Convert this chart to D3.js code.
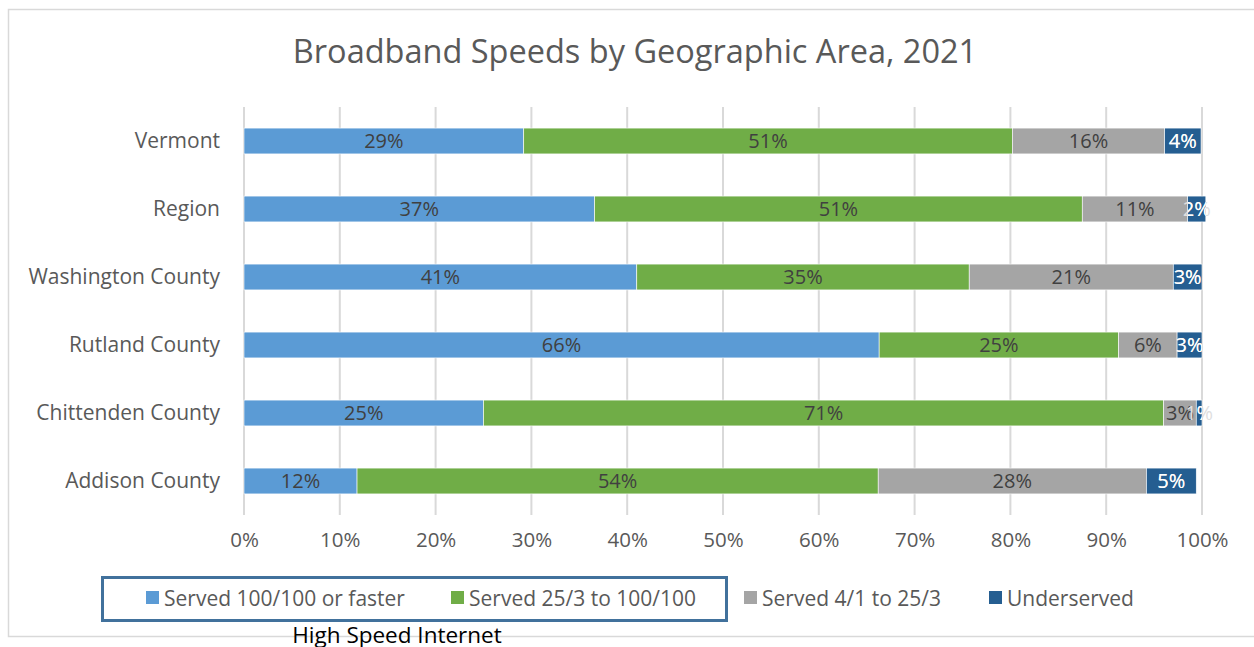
<!DOCTYPE html>
<html>
<head>
<meta charset="utf-8">
<script src="https://cdn.jsdelivr.net/npm/d3@7"></script>
<style>
  html, body { margin: 0; padding: 0; background: #fff; }
  svg { display: block; font-family: "Open Sans", "Noto Sans", sans-serif; }
</style>
</head>
<body>
<svg id="chart" width="1254" height="647"></svg>
<script>
// Areas, listed top to bottom
const categories = ["Vermont", "Region", "Washington County", "Rutland County", "Chittenden County", "Addison County"];

// Share of locations (%) in each service tier
const series = ["Served 100/100 or faster", "Served 25/3 to 100/100", "Served 4/1 to 25/3", "Underserved"];
const served100  = [29.2, 36.6, 41.0, 66.3, 25.0, 11.8];
const served25   = [51.0, 50.9, 34.7, 25.0, 71.0, 54.4];
const served4    = [15.9, 11.0, 21.3,  6.1,  3.4, 28.0];
const underserved = [3.8,  1.9,  3.0,  2.6,  0.6,  5.2];

const tickValues = [0, 10, 20, 30, 40, 50, 60, 70, 80, 90, 100];
const title = "Broadband Speeds by Geographic Area, 2021";
const groupLabel = "High Speed Internet";

const colors = ["#5b9bd5", "#70ad47", "#a5a5a5", "#255e91"];
const labelColors = ["#404040", "#404040", "#404040", "#ffffff"];

const seriesValues = [served100, served25, served4, underserved];
const rows = categories.map((c, i) => {
  const r = { area: c };
  series.forEach((s, j) => { r[s] = seriesValues[j][i]; });
  return r;
});
const stacked = d3.stack().keys(series)(rows);

const svg = d3.select("#chart");
const plot = { left: 244, right: 1202, top: 107, bottom: 515 };
const FONT = "\"Open Sans\", \"Noto Sans\", sans-serif";

// Chart frame
svg.append("rect")
  .attr("x", 8.5).attr("y", 9.5)
  .attr("width", 1260).attr("height", 627)
  .attr("fill", "#fff").attr("stroke", "#d9d9d9").attr("stroke-width", 1.5);

// Title
svg.append("text")
  .attr("x", 635).attr("y", 63)
  .attr("text-anchor", "middle")
  .attr("font-size", 32.5)
  .attr("fill", "#595959")
  .text(title);

const x = d3.scaleLinear().domain([0, 100]).range([plot.left, plot.right]);
const y = d3.scaleBand().domain(categories).range([plot.top, plot.bottom]).paddingInner(0.62).paddingOuter(0.31);

// Vertical gridlines
svg.append("g")
  .selectAll("line")
  .data(tickValues)
  .join("line")
  .attr("x1", d => x(d)).attr("x2", d => x(d))
  .attr("y1", plot.top).attr("y2", plot.bottom)
  .attr("stroke", "#d9d9d9").attr("stroke-width", 2);

// X axis labels
const xAxis = d3.axisBottom(x).tickValues(tickValues).tickFormat(d => d + "%").tickSize(0).tickPadding(0);
const gx = svg.append("g").attr("transform", `translate(0,${plot.bottom + 17})`).call(xAxis);
gx.select(".domain").remove();
gx.selectAll("text")
  .attr("font-size", 20.5)
  .attr("font-family", FONT)
  .attr("fill", "#595959")
  .attr("dy", "0.72em");

// Y axis labels
const yAxis = d3.axisLeft(y).tickSize(0).tickPadding(24);
const gy = svg.append("g").attr("transform", `translate(${plot.left},0)`).call(yAxis);
gy.select(".domain").remove();
gy.selectAll("text")
  .attr("font-size", 21)
  .attr("font-family", FONT)
  .attr("fill", "#595959");

// Stacked bars
const defs = svg.append("defs");
const fmt = v => Math.round(v) + "%";

stacked.forEach((layer, si) => {
  svg.append("g")
    .selectAll("rect")
    .data(layer)
    .join("rect")
    .attr("x", d => x(d[0]))
    .attr("y", d => y(d.data.area))
    .attr("width", d => x(d[1]) - x(d[0]))
    .attr("height", y.bandwidth())
    .attr("fill", colors[si])
    .attr("stroke", "#ffffff").attr("stroke-width", 0.6);
});

// Segment value labels
const labelSize = 20;
stacked.forEach((layer, si) => {
  const g = svg.append("g");
  layer.forEach((d, ri) => {
    const cx = (x(d[0]) + x(d[1])) / 2;
    const cy = y(d.data.area) + y.bandwidth() / 2;
    const txt = fmt(d[1] - d[0]);
    if (si === 3) {
      // the part of a white label that spills past its bar shows faintly
      g.append("text")
        .attr("x", cx).attr("y", cy).attr("dy", "0.36em")
        .attr("text-anchor", "middle").attr("font-size", labelSize)
        .attr("fill", "#dedede")
        .text(txt);
      const id = "clip" + ri;
      defs.append("clipPath").attr("id", id)
        .append("rect")
        .attr("x", x(d[0])).attr("y", y(d.data.area))
        .attr("width", x(d[1]) - x(d[0])).attr("height", y.bandwidth());
      g.append("text")
        .attr("x", cx).attr("y", cy).attr("dy", "0.36em")
        .attr("text-anchor", "middle").attr("font-size", labelSize)
        .attr("fill", labelColors[si])
        .attr("clip-path", `url(#${id})`)
        .text(txt);
    } else {
      g.append("text")
        .attr("x", cx).attr("y", cy).attr("dy", "0.36em")
        .attr("text-anchor", "middle").attr("font-size", labelSize)
        .attr("fill", labelColors[si])
        .text(txt);
    }
  });
});

// Legend
const legendX = [146, 451, 744, 989];
const legendY = 598;
const legend = svg.append("g");
series.forEach((s, i) => {
  legend.append("rect")
    .attr("x", legendX[i]).attr("y", legendY - 7)
    .attr("width", 13).attr("height", 13)
    .attr("fill", colors[i]);
  legend.append("text")
    .attr("x", legendX[i] + 18).attr("y", legendY).attr("dy", "0.36em")
    .attr("font-size", 21).attr("fill", "#595959")
    .text(s);
});

// Box grouping the high-speed tiers
svg.append("rect")
  .attr("x", 102.5).attr("y", 577.5)
  .attr("width", 624).attr("height", 43)
  .attr("fill", "none").attr("stroke", "#41719c").attr("stroke-width", 3);

svg.append("text")
  .attr("x", 397).attr("y", 643)
  .attr("text-anchor", "middle")
  .attr("font-size", 22.5).attr("fill", "#000")
  .text(groupLabel);
</script>
</body>
</html>
